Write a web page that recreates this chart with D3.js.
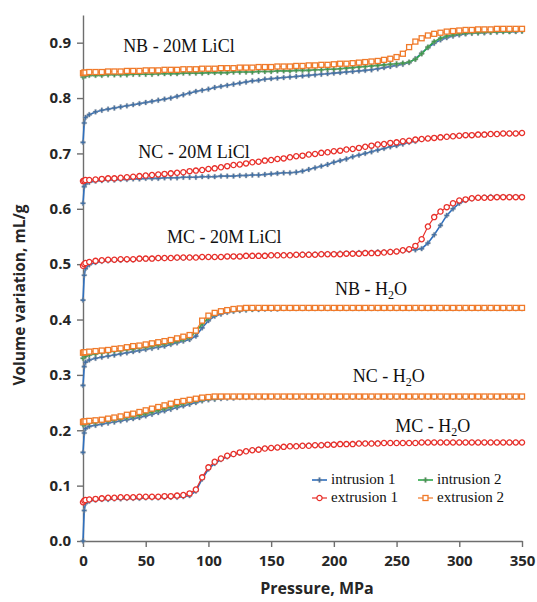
<!DOCTYPE html>
<html>
<head>
<meta charset="utf-8">
<script src="https://cdn.jsdelivr.net/npm/d3@7"></script>
<style>
body { margin: 0; background: #fff; }
.axis text { font-family: "Open Sans", sans-serif; font-weight: bold; font-size: 15px; fill: #262626; }
.axis path, .axis line { stroke: #6e6e6e; stroke-width: 1.4; }
.lbl { font-family: "Liberation Serif", "Times New Roman", serif; font-size: 18px; fill: #111; }
.leg { font-family: "Liberation Serif", "Times New Roman", serif; font-size: 15px; fill: #111; }
</style>
</head>
<body>
<svg id="chart" width="537" height="602"></svg>
<script>
// pressure grid (MPa) shared by every run
var pressure = [0,1,2,
  5,10,15,20,25,30,35,40,45,50,
  55,60,65,70,75,80,85,90,95,100,
  105,110,115,120,125,130,135,140,145,150,
  155,160,165,170,175,180,185,190,195,200,
  205,210,215,220,225,230,235,240,245,250,
  255,260,265,270,275,280,285,290,295,300,
  305,310,315,320,325,330,335,340,345,350];

var seriesNames = ["intrusion 1", "extrusion 1", "intrusion 2", "extrusion 2"];
var sampleNames = ["NB - 20M LiCl", "NC - 20M LiCl", "MC - 20M LiCl", "NB - H2O", "NC - H2O", "MC - H2O"];
var yTicks = [0, 0.1, 0.2, 0.3, 0.4, 0.5, 0.6, 0.7, 0.8, 0.9];
var xTicks = [0, 50, 100, 150, 200, 250, 300, 350];

// volume variation, mL/g
var nb20Int1 = [0.720,0.755,0.765,
  0.770,0.775,0.778,0.780,0.782,0.784,0.786,0.788,0.790,0.792,
  0.794,0.796,0.798,0.800,0.803,0.806,0.809,0.812,0.814,0.816,
  0.819,0.821,0.823,0.825,0.827,0.829,0.831,0.832,0.834,0.835,
  0.836,0.837,0.838,0.839,0.840,0.841,0.842,0.843,0.844,0.845,
  0.846,0.847,0.848,0.849,0.850,0.851,0.853,0.855,0.857,0.859,
  0.861,0.864,0.871,0.881,0.891,0.899,0.905,0.909,0.912,0.914,
  0.916,0.917,0.918,0.918,0.919,0.919,0.920,0.920,0.920,0.921];
var nb20Int2 = [0.838,0.840,0.840,
  0.841,0.841,0.841,0.842,0.842,0.842,0.842,0.843,0.843,0.843,
  0.843,0.844,0.844,0.844,0.844,0.845,0.845,0.845,0.845,0.846,
  0.846,0.846,0.846,0.847,0.847,0.847,0.847,0.848,0.848,0.848,
  0.849,0.849,0.849,0.850,0.850,0.850,0.851,0.851,0.852,0.852,
  0.853,0.854,0.855,0.856,0.857,0.858,0.859,0.860,0.861,0.862,
  0.863,0.865,0.870,0.880,0.892,0.902,0.908,0.912,0.914,0.916,
  0.917,0.918,0.918,0.919,0.919,0.920,0.920,0.920,0.921,0.921];
var nb20Ext2 = [0.845,0.846,0.846,
  0.847,0.847,0.847,0.848,0.848,0.848,0.849,0.849,0.849,0.850,
  0.850,0.850,0.851,0.851,0.851,0.852,0.852,0.852,0.853,0.853,
  0.853,0.854,0.854,0.854,0.855,0.855,0.855,0.856,0.856,0.856,
  0.857,0.857,0.857,0.858,0.858,0.859,0.859,0.860,0.860,0.861,
  0.862,0.862,0.863,0.864,0.865,0.866,0.867,0.869,0.871,0.874,
  0.880,0.892,0.902,0.908,0.913,0.916,0.918,0.920,0.921,0.922,
  0.923,0.923,0.924,0.924,0.924,0.925,0.925,0.925,0.925,0.925];

var nc20Int1 = [0.610,0.640,0.645,
  0.648,0.650,0.651,0.652,0.652,0.653,0.653,0.654,0.654,0.655,
  0.655,0.655,0.656,0.656,0.656,0.657,0.657,0.657,0.658,0.658,
  0.658,0.659,0.659,0.659,0.660,0.660,0.661,0.661,0.662,0.663,
  0.664,0.665,0.665,0.666,0.668,0.671,0.674,0.677,0.680,0.684,
  0.687,0.690,0.694,0.697,0.700,0.703,0.706,0.709,0.712,0.714,
  0.717,0.720,0.722,0.725,0.727,0.728,0.729,0.730,0.731,0.732,
  0.733,0.733,0.734,0.734,0.735,0.735,0.736,0.736,0.736,0.737];
var nc20Ext1 = [0.650,0.651,0.652,
  0.652,0.653,0.654,0.655,0.655,0.656,0.657,0.658,0.659,0.660,
  0.661,0.662,0.663,0.664,0.665,0.666,0.668,0.669,0.670,0.672,
  0.673,0.675,0.677,0.679,0.680,0.682,0.684,0.685,0.687,0.688,
  0.690,0.691,0.693,0.695,0.696,0.698,0.699,0.701,0.702,0.704,
  0.705,0.707,0.708,0.710,0.712,0.714,0.716,0.717,0.719,0.720,
  0.722,0.723,0.725,0.726,0.727,0.728,0.729,0.730,0.731,0.732,
  0.733,0.733,0.734,0.734,0.735,0.735,0.736,0.736,0.736,0.737];

var mc20Int1 = [0.435,0.480,0.492,
  0.499,0.503,0.505,0.506,0.507,0.507,0.508,0.508,0.509,0.509,
  0.510,0.510,0.510,0.511,0.511,0.511,0.512,0.512,0.512,0.513,
  0.513,0.513,0.514,0.514,0.514,0.515,0.515,0.515,0.516,0.516,
  0.516,0.517,0.517,0.517,0.518,0.518,0.518,0.519,0.519,0.519,
  0.520,0.520,0.520,0.521,0.521,0.521,0.522,0.522,0.523,0.523,
  0.524,0.525,0.526,0.528,0.538,0.553,0.570,0.588,0.600,0.610,
  0.615,0.618,0.620,0.621,0.622,0.622,0.622,0.622,0.622,0.622];
var mc20Ext1 = [0.497,0.500,0.502,
  0.504,0.506,0.507,0.508,0.508,0.509,0.509,0.509,0.510,0.510,
  0.510,0.511,0.511,0.511,0.512,0.512,0.512,0.512,0.513,0.513,
  0.513,0.513,0.514,0.514,0.514,0.515,0.515,0.515,0.515,0.516,
  0.516,0.516,0.516,0.517,0.517,0.517,0.517,0.518,0.518,0.518,
  0.518,0.519,0.519,0.519,0.520,0.520,0.520,0.521,0.522,0.523,
  0.525,0.527,0.533,0.545,0.568,0.585,0.595,0.603,0.610,0.615,
  0.617,0.619,0.620,0.620,0.620,0.621,0.621,0.621,0.621,0.621];

var nbH2oInt1 = [0.281,0.315,0.323,
  0.327,0.330,0.332,0.334,0.336,0.338,0.340,0.342,0.344,0.346,
  0.348,0.350,0.352,0.355,0.358,0.361,0.364,0.370,0.385,0.398,
  0.406,0.410,0.413,0.415,0.416,0.417,0.418,0.418,0.419,0.419,
  0.419,0.420,0.420,0.420,0.420,0.420,0.420,0.420,0.420,0.420,
  0.420,0.420,0.420,0.420,0.420,0.420,0.420,0.420,0.420,0.420,
  0.420,0.420,0.420,0.420,0.420,0.420,0.420,0.420,0.420,0.420,
  0.420,0.420,0.420,0.420,0.420,0.420,0.420,0.420,0.420,0.420];
var nbH2oInt2 = [0.330,0.333,0.334,
  0.336,0.338,0.340,0.341,0.343,0.344,0.346,0.347,0.349,0.350,
  0.352,0.354,0.356,0.358,0.361,0.364,0.368,0.378,0.392,0.403,
  0.410,0.414,0.416,0.417,0.418,0.419,0.419,0.420,0.420,0.420,
  0.420,0.420,0.420,0.420,0.420,0.420,0.420,0.420,0.420,0.420,
  0.420,0.420,0.420,0.420,0.420,0.420,0.420,0.420,0.420,0.420,
  0.420,0.420,0.420,0.420,0.420,0.420,0.420,0.420,0.420,0.420,
  0.420,0.420,0.420,0.420,0.420,0.420,0.420,0.420,0.420,0.420];
var nbH2oExt2 = [0.340,0.341,0.341,
  0.342,0.343,0.344,0.345,0.347,0.348,0.350,0.352,0.353,0.355,
  0.357,0.359,0.361,0.363,0.366,0.369,0.372,0.380,0.398,0.407,
  0.412,0.415,0.417,0.419,0.420,0.421,0.421,0.421,0.421,0.421,
  0.421,0.421,0.421,0.421,0.421,0.421,0.421,0.421,0.421,0.421,
  0.421,0.421,0.421,0.421,0.421,0.421,0.421,0.421,0.421,0.421,
  0.421,0.421,0.421,0.421,0.421,0.421,0.421,0.421,0.421,0.421,
  0.421,0.421,0.421,0.421,0.421,0.421,0.421,0.421,0.421,0.421];

var ncH2oInt1 = [0.160,0.195,0.203,
  0.207,0.209,0.211,0.213,0.215,0.217,0.219,0.221,0.223,0.226,
  0.229,0.232,0.235,0.238,0.241,0.244,0.247,0.250,0.253,0.255,
  0.256,0.257,0.258,0.258,0.259,0.259,0.259,0.259,0.259,0.260,
  0.260,0.260,0.260,0.260,0.260,0.260,0.260,0.260,0.260,0.260,
  0.260,0.260,0.260,0.260,0.260,0.260,0.260,0.260,0.260,0.260,
  0.260,0.260,0.260,0.260,0.260,0.260,0.260,0.260,0.260,0.260,
  0.260,0.260,0.260,0.260,0.260,0.260,0.260,0.260,0.260,0.260];
var ncH2oInt2 = [0.210,0.211,0.212,
  0.213,0.214,0.216,0.217,0.219,0.221,0.223,0.225,0.227,0.230,
  0.233,0.236,0.239,0.242,0.245,0.248,0.251,0.253,0.255,0.257,
  0.258,0.259,0.260,0.260,0.260,0.260,0.260,0.260,0.260,0.260,
  0.260,0.260,0.260,0.260,0.260,0.260,0.260,0.260,0.260,0.260,
  0.260,0.260,0.260,0.260,0.260,0.260,0.260,0.260,0.260,0.260,
  0.260,0.260,0.260,0.260,0.260,0.260,0.260,0.260,0.260,0.260,
  0.260,0.260,0.260,0.260,0.260,0.260,0.260,0.260,0.260,0.260];
var ncH2oExt2 = [0.215,0.216,0.216,
  0.217,0.218,0.219,0.221,0.223,0.225,0.228,0.230,0.233,0.236,
  0.239,0.242,0.245,0.248,0.251,0.253,0.255,0.257,0.259,0.260,
  0.261,0.261,0.261,0.261,0.261,0.261,0.261,0.261,0.261,0.261,
  0.261,0.261,0.261,0.261,0.261,0.261,0.261,0.261,0.261,0.261,
  0.261,0.261,0.261,0.261,0.261,0.261,0.261,0.261,0.261,0.261,
  0.261,0.261,0.261,0.261,0.261,0.261,0.261,0.261,0.261,0.261,
  0.261,0.261,0.261,0.261,0.261,0.261,0.261,0.261,0.261,0.261];

var mcH2oInt1 = [0.000,0.055,0.068,
  0.072,0.074,0.075,0.075,0.076,0.076,0.077,0.077,0.077,0.078,
  0.078,0.078,0.079,0.079,0.079,0.080,0.082,0.090,0.112,0.130,
  0.140,0.147,0.152,0.156,0.159,0.162,0.164,0.166,0.167,0.168,
  0.169,0.170,0.171,0.172,0.172,0.173,0.173,0.174,0.174,0.175,
  0.175,0.175,0.176,0.176,0.176,0.176,0.177,0.177,0.177,0.177,
  0.177,0.177,0.177,0.178,0.178,0.178,0.178,0.178,0.178,0.178,
  0.178,0.178,0.178,0.178,0.178,0.178,0.178,0.178,0.178,0.178];
var mcH2oExt1 = [0.070,0.073,0.074,
  0.075,0.076,0.077,0.078,0.078,0.079,0.079,0.079,0.080,0.080,
  0.080,0.080,0.081,0.081,0.082,0.083,0.086,0.093,0.115,0.133,
  0.143,0.149,0.154,0.157,0.160,0.162,0.164,0.165,0.167,0.168,
  0.169,0.170,0.171,0.171,0.172,0.172,0.173,0.173,0.174,0.174,
  0.175,0.175,0.175,0.176,0.176,0.176,0.176,0.177,0.177,0.177,
  0.177,0.177,0.177,0.178,0.178,0.178,0.178,0.178,0.178,0.178,
  0.178,0.178,0.178,0.178,0.178,0.178,0.178,0.178,0.178,0.178];

// runs per series, in drawing order (later ones sit on top)
var runs = [
  [nb20Int1, nc20Int1, mc20Int1, nbH2oInt1, ncH2oInt1, mcH2oInt1],
  [nc20Ext1, mc20Ext1, mcH2oExt1],
  [nb20Int2, nbH2oInt2, ncH2oInt2],
  [nb20Ext2, nbH2oExt2, ncH2oExt2]
];

var colors = ["#2f6fbd", "#e8302a", "#2ea84a", "#f07a2a"];

var svg = d3.select("#chart");
var margin = {top: 15, right: 15, bottom: 61, left: 83};
var width = +svg.attr("width") - margin.left - margin.right,
    height = +svg.attr("height") - margin.top - margin.bottom;
var g = svg.append("g").attr("transform", "translate(" + margin.left + "," + margin.top + ")");

var x = d3.scaleLinear().domain([0, 350]).range([0, width]);
var y = d3.scaleLinear().domain([0, 0.95]).range([height, 0]);

g.append("g")
    .attr("class", "axis")
    .attr("transform", "translate(0," + height + ")")
    .call(d3.axisBottom(x).tickValues(xTicks).tickSize(6).tickSizeOuter(0).tickPadding(8));

g.append("g")
    .attr("class", "axis")
    .call(d3.axisLeft(y).tickValues(yTicks).tickFormat(d3.format(".1f")).tickSize(6).tickSizeOuter(0).tickPadding(6));

var line = d3.line()
    .x(function(d) { return x(d[0]); })
    .y(function(d) { return y(d[1]); });

function drawMarker(sel, s, c) {
    if (s === 0 || s === 2) {
        sel.append("path")
            .attr("d", d3.symbol(d3.symbolCross, 13))
            .attr("fill", s === 0 ? "#3d6fa8" : "#3d9a4a")
            .attr("stroke", "#9a9a9a").attr("stroke-width", 0.4);
    } else if (s === 1) {
        sel.append("circle").attr("r", 2.6)
            .attr("fill", "#fff").attr("stroke", c).attr("stroke-width", 1.3);
    } else {
        sel.append("rect").attr("x", -2.5).attr("y", -2.5).attr("width", 5).attr("height", 5)
            .attr("fill", "#fff").attr("stroke", c).attr("stroke-width", 1.3);
    }
}

runs.forEach(function(list, s) {
    list.forEach(function(vals) {
        var pts = pressure.map(function(p, i) { return [p, vals[i]]; });
        g.append("path")
            .datum(pts)
            .attr("fill", "none")
            .attr("stroke", colors[s])
            .attr("stroke-width", s % 2 === 0 ? 1.6 : 1.2)
            .attr("d", line);
        g.selectAll(null)
            .data(pts)
            .enter().append("g")
            .attr("transform", function(d) { return "translate(" + x(d[0]) + "," + y(d[1]) + ")"; })
            .each(function() { drawMarker(d3.select(this), s, colors[s]); });
    });
});

// sample labels, anchored in data units
var labelPos = [[32, 0.883], [44, 0.692], [67, 0.538], [201, 0.444], [215, 0.287], [249, 0.197]];
sampleNames.forEach(function(name, i) {
    var t = g.append("text").attr("class", "lbl")
        .attr("x", x(labelPos[i][0])).attr("y", y(labelPos[i][1]));
    if (name.indexOf("H2O") > 0) {
        t.append("tspan").text(name.replace("H2O", "H"));
        t.append("tspan").attr("dy", 4).attr("font-size", "12px").text("2");
        t.append("tspan").attr("dy", -4).text("O");
    } else {
        t.text(name);
    }
});

// legend
var legend = svg.append("g").attr("transform", "translate(312,484)");
seriesNames.forEach(function(name, s) {
    var item = legend.append("g")
        .attr("transform", "translate(" + (s >= 2 ? 106 : 0) + "," + (s % 2) * 18 + ")");
    item.append("line").attr("x1", 0).attr("x2", 15).attr("y1", -4).attr("y2", -4)
        .attr("stroke", colors[s]).attr("stroke-width", s % 2 === 0 ? 1.6 : 1.2);
    drawMarker(item.append("g").attr("transform", "translate(7.5,-4)"), s, colors[s]);
    item.append("text").attr("class", "leg").attr("x", 19).attr("y", 0).text(name);
});

// axis titles
svg.append("text")
    .attr("transform", "translate(25," + (margin.top + 280) + ") rotate(-90)")
    .attr("text-anchor", "middle")
    .style("font-family", "'Open Sans', sans-serif").style("font-weight", "bold")
    .style("font-size", "15.5px").style("fill", "#262626")
    .text("Volume variation, mL/g");

svg.append("text")
    .attr("x", 317).attr("y", 594)
    .attr("text-anchor", "middle")
    .style("font-family", "'Open Sans', sans-serif").style("font-weight", "bold")
    .style("font-size", "16px").style("fill", "#262626")
    .text("Pressure, MPa");
</script>
</body>
</html>
